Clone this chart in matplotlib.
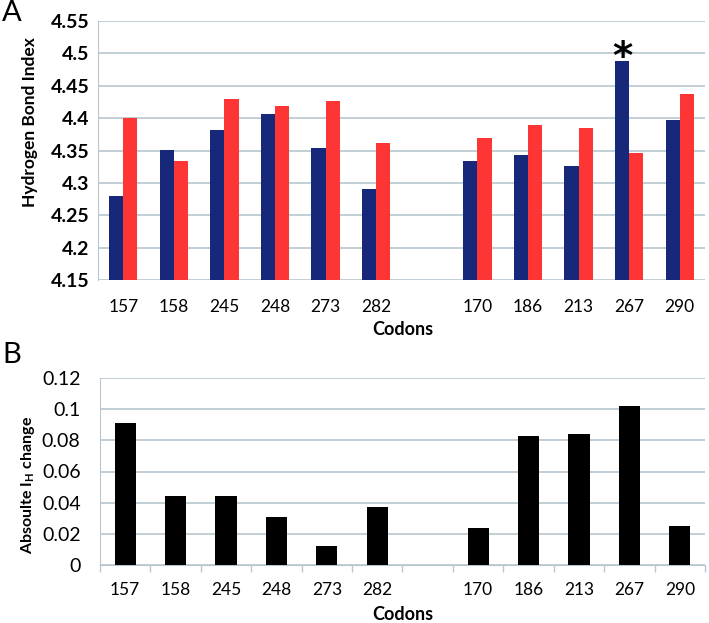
import matplotlib
matplotlib.use("Agg")
import matplotlib.pyplot as plt
import numpy as np

codons = ["157", "158", "245", "248", "273", "282", "", "170", "186", "213", "267", "290"]
hbi_blue = [4.279, 4.351, 4.381, 4.406, 4.354, 4.291, np.nan, 4.334, 4.343, 4.326, 4.488, 4.397]
hbi_red = [4.400, 4.334, 4.429, 4.419, 4.426, 4.361, np.nan, 4.369, 4.390, 4.384, 4.346, 4.438]
abs_change = [0.091, 0.044, 0.044, 0.031, 0.012, 0.037, np.nan, 0.024, 0.083, 0.084, 0.102, 0.025]
top_yticks = [4.15, 4.2, 4.25, 4.3, 4.35, 4.4, 4.45, 4.5, 4.55]
top_yticklabels = ["4.15", "4.2", "4.25", "4.3", "4.35", "4.4", "4.45", "4.5", "4.55"]
bot_yticks = [0, 0.02, 0.04, 0.06, 0.08, 0.1, 0.12]
bot_yticklabels = ["0", "0.02", "0.04", "0.06", "0.08", "0.1", "0.12"]

plt.rcParams['font.family'] = ['Lato', 'DejaVu Sans']
plt.rcParams['mathtext.fontset'] = 'custom'
plt.rcParams['mathtext.bf'] = 'Lato:bold'
plt.rcParams['mathtext.rm'] = 'Lato'

W, H = 709, 623
fig = plt.figure(figsize=(W / 100, H / 100), dpi=100)

BLUE = "#17287a"
RED = "#fe3535"
GRID = "#b8c6cf"

x = np.arange(len(codons))
bw = 0.28

# Panel A
ax1 = fig.add_axes([98 / W, 1 - 280 / H, 607 / W, 259 / H])
ax1.bar(x - bw / 2, np.nan_to_num(hbi_blue, nan=4.15), bw, color=BLUE, zorder=3)
ax1.bar(x + bw / 2, np.nan_to_num(hbi_red, nan=4.15), bw, color=RED, zorder=3)
ax1.set_ylim(4.15, 4.55)
ax1.set_xlim(-0.5, len(codons) - 0.5)
ax1.set_yticks(top_yticks)
ax1.set_yticklabels(top_yticklabels, fontsize=14, fontweight='bold')
ax1.set_xticks(x)
ax1.set_xticklabels(codons, fontsize=12.5)
ax1.tick_params(axis='x', length=0, pad=14)
ax1.tick_params(axis='y', length=0, pad=6)
ax1.yaxis.grid(True, color=GRID, linewidth=1.2, zorder=0)
for s in ['top', 'right', 'bottom']:
    ax1.spines[s].set_visible(False)
ax1.spines['left'].set_color(GRID)
ax1.set_ylabel("Hydrogen Bond Index", fontsize=12.5, fontweight='bold', va='center')
ax1.yaxis.set_label_coords(-0.112, 0.61)
i267 = codons.index("267")
ax1.text(x[i267] - bw / 2, hbi_blue[i267] - 0.012, "*", ha='center', va='baseline',
         fontsize=28, fontweight='bold', family='DejaVu Sans', zorder=4)

# Panel B
ax2 = fig.add_axes([100 / W, 1 - 565 / H, 605 / W, 187 / H])
ax2.bar(x, np.nan_to_num(abs_change, nan=0), 0.42, color="black", zorder=3)
ax2.set_ylim(0, 0.12)
ax2.set_xlim(-0.5, len(codons) - 0.5)
ax2.set_yticks(bot_yticks)
ax2.set_yticklabels(bot_yticklabels, fontsize=14)
ax2.set_xticks(x)
ax2.set_xticklabels(codons, fontsize=12.5)
ax2.set_xticks(np.arange(-0.5, len(codons)), minor=True)
ax2.tick_params(axis='x', which='major', length=0, pad=12)
ax2.tick_params(axis='x', which='minor', length=5, color=GRID, width=1)
ax2.tick_params(axis='y', length=0, pad=14)
ax2.yaxis.grid(True, color=GRID, linewidth=1.2, zorder=0)
for s in ['top', 'right']:
    ax2.spines[s].set_visible(False)
ax2.spines['left'].set_color(GRID)
ax2.spines['bottom'].set_color(GRID)
ax2.set_ylabel(r"Absoulte I$_\mathbf{H}$ change", fontsize=11.5, fontweight='bold', va='center')
ax2.yaxis.set_label_coords(-0.119, 0.43)

fig.text(403 / W, 1 - 330 / H, "Codons", ha='center', va='center', fontsize=13, fontweight='bold')
fig.text(403 / W, 1 - 615 / H, "Codons", ha='center', va='center', fontsize=13, fontweight='bold')
fig.text(2 / W, 1 - 13 / H, "A", ha='left', va='center', fontsize=21)
fig.text(2 / W, 1 - 355 / H, "B", ha='left', va='center', fontsize=21)

fig.savefig("out.png", dpi=100)
